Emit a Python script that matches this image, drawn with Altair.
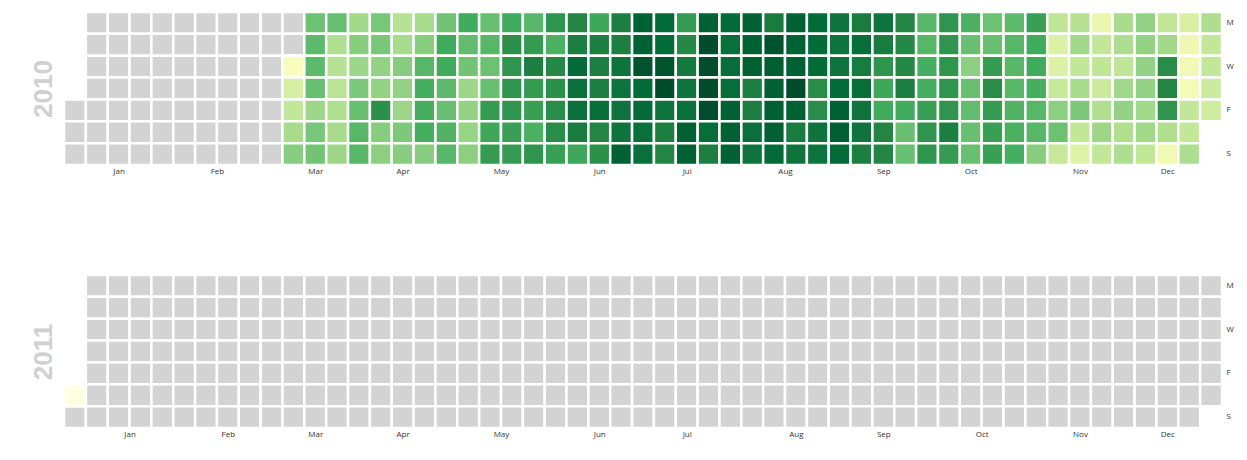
import json
import altair as alt
import pandas as pd

MONTH_LABELS = ["Jan", "Feb", "Mar", "Apr", "May", "Jun",
                "Jul", "Aug", "Sep", "Oct", "Nov", "Dec"]
DAY_LABELS = ["M", "", "W", "", "F", "", "S"]
YEARS = [2010, 2011]
# matplotlib "YlGn" colour stops
YLGN = ["#ffffe5", "#f7fcb9", "#d9f0a3", "#addd8e", "#78c679",
        "#41ab5d", "#238443", "#006837", "#004529"]

# daily values (data start 2010-03-10)
mar_2010 = [0.9, 2.1, 2.5, 3.1, 3.7, 4.2, 4.5, 4.5, 4.3, 3.3, 4.0, 4.1, 4.3, 2.9,
            2.8, 2.7, 2.9, 3.1, 3.3, 3.2, 3.7, 3.3]
apr_2010 = [3.9, 4.3, 4.6, 4.6, 4.0, 4.0, 3.5, 3.5, 5.7, 3.7, 3.6, 2.8, 3.1, 3.7,
            3.5, 3.3, 3.9, 3.7, 3.1, 3.7, 4.6, 4.9, 4.9, 4.9, 3.7, 4.1, 5.0, 5.0,
            4.5, 4.3]
may_2010 = [4.7, 4.6, 5.0, 4.4, 4.1, 3.3, 3.5, 3.4, 3.6, 4.3, 4.6, 4.2, 4.3, 5.4,
            5.1, 5.4, 5.0, 5.7, 5.6, 5.6, 5.6, 5.3, 5.4, 4.6, 5.4, 6.2, 5.4, 5.3,
            4.8, 5.6, 5.6]
jun_2010 = [4.8, 5.9, 5.7, 5.8, 5.8, 5.3, 6.0, 6.2, 6.9, 6.7, 6.7, 6.3, 5.1, 5.1,
            6.2, 6.2, 6.2, 6.8, 6.0, 5.7, 6.2, 6.2, 6.6, 6.6, 6.6, 6.6, 7.2, 7.2,
            7.2, 7.6]
jul_2010 = [6.9, 6.9, 6.7, 6.7, 6.9, 6.9, 7.6, 7.8, 6.6, 6.2, 6.0, 5.4, 5.9, 6.4,
            6.6, 6.7, 7.2, 7.2, 7.2, 7.8, 7.8, 7.8, 7.8, 6.8, 6.2, 6.9, 6.7, 6.8,
            6.8, 7.2, 7.2]
aug_2010 = [7.2, 7.2, 7.2, 7.2, 6.2, 6.2, 6.7, 6.6, 6.3, 7.6, 7.3, 7.2, 7.2, 7.2,
            6.9, 7.2, 7.2, 7.2, 7.8, 7.2, 6.3, 6.6, 6.9, 6.9, 6.9, 5.8, 5.8, 6.6,
            6.6, 6.6, 6.6]
sep_2010 = [6.6, 6.9, 7.2, 7.3, 6.9, 6.3, 6.8, 6.3, 6.8, 6.6, 6.6, 6.2, 6.6, 6.3,
            5.6, 5.1, 5.0, 6.0, 6.0, 6.0, 5.9, 5.9, 6.2, 5.0, 4.3, 4.3, 4.6, 4.6,
            4.9, 4.9]
oct_2010 = [5.3, 5.6, 5.6, 5.6, 5.6, 5.6, 5.6, 5.6, 6.2, 5.4, 4.8, 4.3, 3.6, 4.3,
            4.4, 4.3, 4.3, 4.2, 4.3, 5.4, 5.8, 5.4, 5.3, 5.3, 4.5, 4.6, 4.6, 4.6,
            4.7, 4.8, 4.9]
nov_2010 = [5.3, 5.0, 5.0, 4.9, 4.6, 4.6, 3.7, 2.6, 1.9, 1.9, 2.4, 3.6, 4.2, 2.4,
            2.8, 3.2, 2.5, 3.1, 3.9, 2.5, 1.8, 1.4, 2.5, 2.6, 2.3, 2.9, 3.3, 2.5,
            3.1, 3.0]
dec_2010 = [2.6, 3.2, 3.5, 2.9, 3.0, 3.5, 3.5, 3.5, 3.5, 3.2, 3.2, 2.5, 2.5, 3.2,
            5.8, 6.0, 5.6, 2.9, 1.2, 2.0, 1.3, 1.2, 1.1, 2.5, 2.5, 3.0, 3.0, 2.5,
            2.5, 2.3, 2.2]
jan_2011 = [0.1]

SERIES_START = "2010-03-10"
all_values = (mar_2010 + apr_2010 + may_2010 + jun_2010 + jul_2010 + aug_2010 +
              sep_2010 + oct_2010 + nov_2010 + dec_2010 + jan_2011)
series = pd.Series(all_values,
                   index=pd.date_range(SERIES_START, periods=len(all_values)))


def year_frame(year):
    days = pd.date_range(f"{year}-01-01", f"{year}-12-31")
    origin = days[0] - pd.Timedelta(days=days[0].weekday())
    df = pd.DataFrame({"date": days})
    df["week"] = (df["date"] - origin).dt.days // 7
    df["week_end"] = df["week"] + 1
    df["dow"] = df["date"].dt.weekday
    df["value"] = df["date"].map(series)
    df["date"] = df["date"].dt.strftime("%Y-%m-%d")
    return df


def month_ticks(df):
    m = pd.to_datetime(df["date"]).dt.month
    g = df.groupby(m)["week"]
    return [float((lo + hi + 1) / 2) for lo, hi in zip(g.min(), g.max())]


def year_chart(year):
    df = year_frame(year)
    ticks = month_ticks(df)
    label_expr = (f"{json.dumps(MONTH_LABELS)}"
                  f"[indexof({json.dumps(ticks)}, datum.value)]")
    x_axis = alt.Axis(values=ticks, labelExpr=label_expr, ticks=False,
                      domain=False, grid=False, title=None, labelFontSize=8,
                      labelFont="Open Sans", labelColor="#333333",
                      labelPadding=2)
    x = alt.X("week:Q", scale=alt.Scale(domain=[0, 53], nice=False, zero=False),
              axis=x_axis)
    y_scale = alt.Scale(domain=list(range(7)), paddingInner=0, paddingOuter=0)
    base = alt.Chart(df)
    grey = base.mark_rect(fill="#d3d3d3", stroke="white", strokeWidth=2.5).encode(
        x=x, x2="week_end:Q",
        y=alt.Y("dow:O", scale=y_scale,
                axis=alt.Axis(orient="left", labels=False, ticks=False,
                              domain=False, grid=False, title=str(year),
                              titleFontSize=26, titleFontWeight="bold",
                              titleFont="Liberation Sans", titleColor="#d0d0d0",
                              titlePadding=8)),
    )
    colored = base.transform_filter("isValid(datum.value)").mark_rect(
        stroke="white", strokeWidth=2.5).encode(
        x=x, x2="week_end:Q",
        y=alt.Y("dow:O", scale=y_scale,
                axis=alt.Axis(orient="right", labelExpr=(
                    f"{json.dumps(DAY_LABELS)}[datum.value]"),
                    ticks=False, domain=False, grid=False, title=None,
                    labelFontSize=8, labelFont="Open Sans",
                    labelColor="#333333", labelPadding=4)),
        color=alt.Color("value:Q",
                        scale=alt.Scale(domain=list(range(len(YLGN))),
                                        range=YLGN, interpolate="rgb"),
                        legend=None),
        tooltip=["date:N", "value:Q"],
    )
    return alt.layer(grey, colored).resolve_axis(y="independent").properties(
        width=1158, height=153)


chart = alt.vconcat(*[year_chart(y) for y in YEARS], spacing=98).properties(
    padding={"left": 22, "top": 2, "right": 5, "bottom": 5}
).configure_view(stroke=None)

chart.save("out.html", embed_options={"renderer": "svg", "actions": False})
